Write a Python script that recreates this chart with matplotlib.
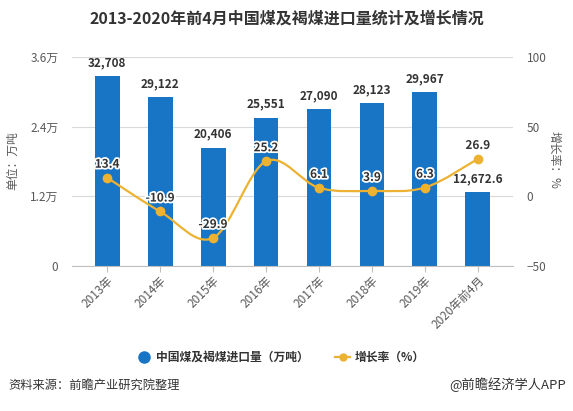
import matplotlib.pyplot as plt
from matplotlib.path import Path
from matplotlib.patches import PathPatch
from matplotlib.lines import Line2D
import matplotlib.patheffects as pe

plt.rcParams['font.family'] = ['Noto Sans CJK SC', 'DejaVu Sans']

years = ['2013年', '2014年', '2015年', '2016年', '2017年', '2018年', '2019年', '2020年前4月']
imports = [32708, 29122, 20406, 25551, 27090, 28123, 29967, 12672.6]
growth = [13.4, -10.9, -29.9, 25.2, 6.1, 3.9, 6.3, 26.9]
import_labels = ['32,708', '29,122', '20,406', '25,551', '27,090', '28,123', '29,967', '12,672.6']
left_ticks = [0, 12000, 24000, 36000]
left_tick_labels = ['0', '1.2万', '2.4万', '3.6万']
right_ticks = [-50, 0, 50, 100]

bar_color = '#1874C4'
line_color = '#EDB232'
grid_color = '#D9D9D9'
text_color = '#595959'


def smooth_path(xs, ys):
    # catmull-rom curve through the points, as cubic bezier segments
    verts = [(xs[0], ys[0])]
    codes = [Path.MOVETO]
    n = len(xs)
    for i in range(n - 1):
        x0, y0 = (xs[i - 1], ys[i - 1]) if i > 0 else (xs[i], ys[i])
        x1, y1 = xs[i], ys[i]
        x2, y2 = xs[i + 1], ys[i + 1]
        x3, y3 = (xs[i + 2], ys[i + 2]) if i + 2 < n else (x2, y2)
        c1 = (x1 + (x2 - x0) / 6, y1 + (y2 - y0) / 6)
        c2 = (x2 - (x3 - x1) / 6, y2 - (y3 - y1) / 6)
        verts += [c1, c2, (x2, y2)]
        codes += [Path.CURVE4] * 3
    return Path(verts, codes)


fig = plt.figure(figsize=(5.73, 4.11), dpi=100)
ax = fig.add_axes([0.126, 0.353, 0.769, 0.508])
x = list(range(len(years)))

ax.bar(x, imports, width=0.47, color=bar_color, zorder=2)
ax.set_xlim(-0.66, 7.66)
ax.set_ylim(0, 36000)
ax.set_yticks(left_ticks)
ax.set_yticklabels(left_tick_labels)
ax.set_xticks(x)
ax.set_xticklabels(years, rotation=45, ha='right', rotation_mode='anchor')
ax.grid(axis='y', color=grid_color, linewidth=0.8, zorder=0)
for s in ['top', 'left', 'right']:
    ax.spines[s].set_visible(False)
ax.spines['bottom'].set_color('#BFBFBF')
ax.tick_params(axis='y', length=0, labelsize=8.5, labelcolor=text_color, pad=10)
ax.tick_params(axis='x', length=4, color='#BFBFBF', labelsize=8.5, labelcolor=text_color, pad=2)

for xi, v, lab in zip(x, imports, import_labels):
    ax.annotate(lab, (xi, v), xytext=(0, 5), textcoords='offset points',
                ha='center', va='bottom', fontsize=8.5, fontweight='bold', color='#333333')

ax2 = ax.twinx()
ax2.set_ylim(-50, 100)
ax2.set_yticks(right_ticks)
for s in ['top', 'left', 'right', 'bottom']:
    ax2.spines[s].set_visible(False)
ax2.tick_params(axis='y', length=0, labelsize=8.5, labelcolor=text_color, pad=10)

ax2.add_patch(PathPatch(smooth_path(x, growth), facecolor='none', edgecolor=line_color,
                        linewidth=1.6, zorder=3))
ax2.plot(x, growth, linestyle='none', marker='o', markersize=6, color=line_color, zorder=4)
for xi, v in zip(x, growth):
    ax2.annotate(f'{v}', (xi, v), xytext=(0, 5), textcoords='offset points',
                 ha='center', va='bottom', fontsize=8.5, fontweight='bold', color='#333333',
                 path_effects=[pe.withStroke(linewidth=2.5, foreground='white')], zorder=5)

fig.text(0.5, 0.955, '2013-2020年前4月中国煤及褐煤进口量统计及增长情况',
         ha='center', va='center', fontsize=11.5, fontweight='bold', color='#333333')
fig.text(0.022, 0.61, '单位：万吨', rotation=90, ha='center', va='center',
         fontsize=8.5, color=text_color)
fig.text(0.968, 0.61, '增长率：%', rotation=270, ha='center', va='center',
         fontsize=8.5, color=text_color)

handles = [
    Line2D([], [], linestyle='none', marker='o', markersize=8, color=bar_color),
    Line2D([], [], color=line_color, marker='o', markersize=5, linewidth=1.6),
]
fig.legend(handles, ['中国煤及褐煤进口量（万吨）', '增长率（%）'], loc='center',
           bbox_to_anchor=(0.49, 0.131), ncol=2, frameon=False,
           prop={'size': 8.5, 'weight': 'bold'}, handlelength=1.3, handletextpad=0.4,
           columnspacing=2.2, labelcolor='#333333')

fig.text(0.014, 0.063, '资料来源：前瞻产业研究院整理', ha='left', va='center',
         fontsize=8.8, color='#333333')
fig.text(0.988, 0.063, '@前瞻经济学人APP', ha='right', va='center',
         fontsize=9.5, color='#333333')

fig.savefig('out.png', dpi=100)
